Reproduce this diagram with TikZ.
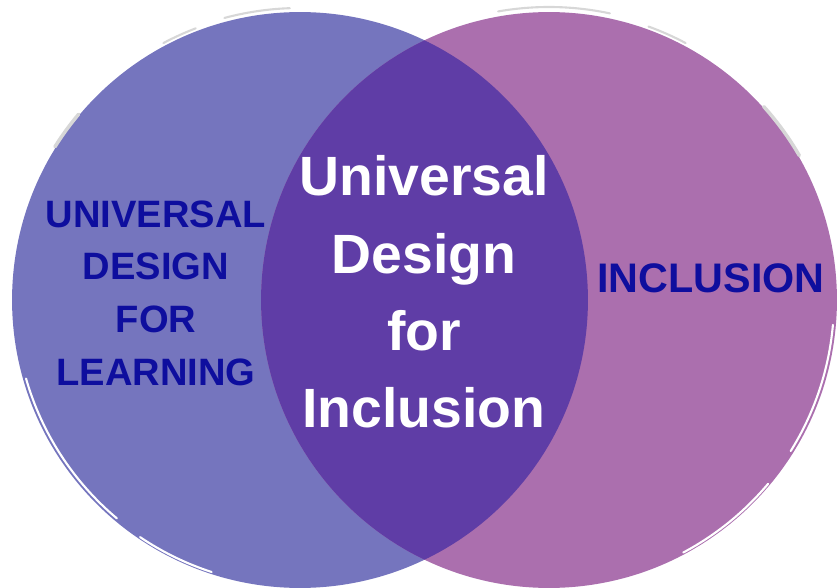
\documentclass[tikz,border=0pt]{standalone}
\usepackage{fontspec}
\setmainfont{Liberation Sans}
\usetikzlibrary{positioning}

\definecolor{udlblue}{RGB}{117,117,190}
\definecolor{inclpink}{RGB}{171,111,174}
\definecolor{udipurple}{RGB}{95,61,166}
\definecolor{navytext}{RGB}{14,14,158}
\definecolor{brushgrey}{RGB}{215,215,215}

\begin{document}
\begin{tikzpicture}[x=0.02cm, y=-0.02cm]
	\tikzstyle{setStyle}=[shape = circle, minimum size = 11.52cm, inner sep = 0pt]
	\tikzstyle{outerLabel}=[align = center, text = navytext, font = \fontsize{21.7}{30}\selectfont\bfseries]
	\tikzstyle{innerLabel}=[align = center, text = white, font = \fontsize{31.5}{44}\selectfont\bfseries]
	\tikzstyle{brush}=[line width = 1.2pt, line cap = round]
	\useasboundingbox (0,0) rectangle (839,588);
	% the two sets
	\node[setStyle, fill = udlblue] (udl) at (300,300) {};
	\node[setStyle, fill = inclpink] (incl) at (549,300) {};
	% overlap
	\begin{scope}
		\clip (udl.center) circle [radius = 5.76cm];
		\fill[udipurple] (incl.center) circle [radius = 5.76cm];
	\end{scope}
	% brush marks on the rims (y runs downwards, so angles are negated)
	\draw[brush, brushgrey] (udl.center) ++(-105:292) arc (-105:-92:292);
	\draw[brush, brushgrey] (udl.center) ++(-118:291) arc (-118:-111:291);
	\draw[brush, brushgrey, line width = 2pt] (udl.center) ++(-148:289) arc (-148:-140:289);
	\draw[brush, white] (udl.center) ++(-196:285) arc (-196:-230:285);
	\draw[brush, white] (udl.center) ++(-236:286) arc (-236:-252:286);
	\draw[brush, brushgrey] (incl.center) ++(-100:293) arc (-100:-78:293);
	\draw[brush, brushgrey] (incl.center) ++(-70:291) arc (-70:-62:291);
	\draw[brush, brushgrey, line width = 2pt] (incl.center) ++(-42:289) arc (-42:-30:289);
	\draw[brush, white] (incl.center) ++(5:285) arc (5:32:285);
	\draw[brush, white] (incl.center) ++(40:286) arc (40:62:286);
	% labels
	\node[outerLabel] (udlText) at (156,293) {UNIVERSAL\\DESIGN\\FOR\\LEARNING};
	\node[outerLabel, font = \fontsize{23.5}{30}\selectfont\bfseries] (inclText) at (711,278) {INCLUSION};
	\node[innerLabel] (udiText) at (424,292) {Universal\\Design\\for\\Inclusion};
\end{tikzpicture}
\end{document}
